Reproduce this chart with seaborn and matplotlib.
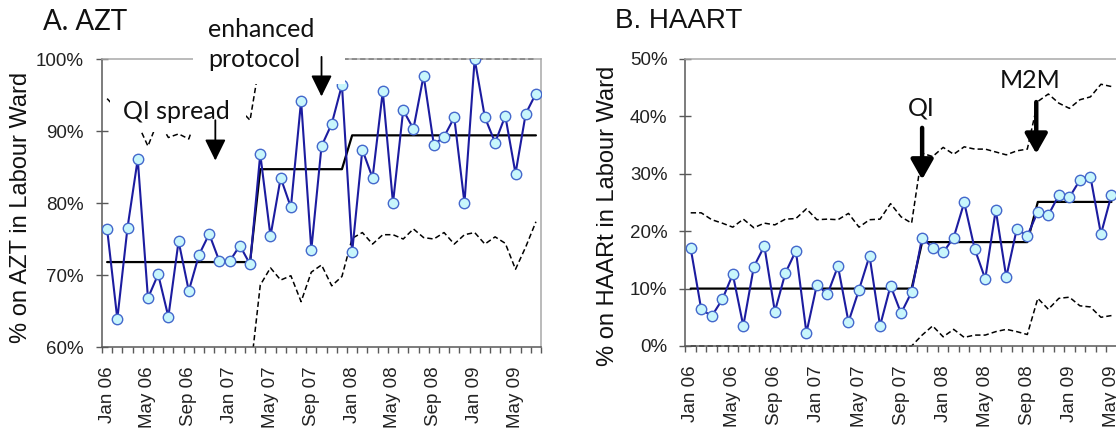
import numpy as np
import pandas as pd
import seaborn as sns
import matplotlib
matplotlib.use('Agg')
import matplotlib.pyplot as plt
from matplotlib.patches import Rectangle

# month categories, Jan 06 .. Jul 09
months = pd.date_range('2006-01-01', periods=43, freq='MS').strftime('%b %y').tolist()

# A. AZT - monthly % on AZT (p-chart)
azt_pct = [76.4, 63.9, 76.6, 86.1, 66.8, 70.1, 64.2, 74.7, 67.8, 72.8, 75.7, 71.9, 71.9, 74.1, 71.5,
           86.8, 75.4, 83.5, 79.4, 94.2, 73.5, 87.9, 91.0, 96.4,
           73.2, 87.4, 83.5, 95.5, 80.0, 92.9, 90.3, 97.7, 88.1, 89.2, 91.9, 80.0, 100.0, 91.9, 88.4,
           92.1, 84.1, 92.4, 95.2]
azt_centre = [71.8] * 15 + [84.7] * 9 + [89.4] * 19
azt_ucl = [94.5, 93.0, 92.5, 91.0, 87.9, 91.5, 89.1, 89.6, 88.9, 93.0, 93.5, 94.0, 93.5, 93.0, 91.5] + [100.0] * 28
azt_lcl = [49.1, 50.6, 51.1, 52.6, 55.7, 52.1, 54.5, 54.0, 54.7, 50.6, 50.1, 49.6, 50.1, 50.6, 56.0,
           68.6, 71.0, 69.3, 69.9, 66.3, 70.4, 71.4, 68.5, 69.8,
           75.1, 75.9, 74.3, 75.6, 75.6, 75.0, 76.4, 75.2, 75.0, 75.9, 74.3, 75.6, 75.9, 74.3, 75.3,
           74.4, 70.8, 73.9, 77.4]
azt_yticks = [60, 70, 80, 90, 100]

# B. HAART - only the months visible in the picture
haart_pct = [17.0, 6.4, 5.2, 8.1, 12.5, 3.5, 13.8, 17.4, 6.0, 12.7, 16.6, 2.3, 10.7, 9.0, 13.9, 4.2,
             9.8, 15.7, 3.5, 10.5, 5.7, 9.4,
             18.9, 17.1, 16.3, 18.9, 25.0, 16.9, 11.7, 23.7, 12.0, 20.4, 19.2,
             23.4, 22.8, 26.3, 25.9, 28.9, 29.5, 19.5, 26.3]
haart_centre = [10.0] * 22 + [18.1] * 11 + [25.1] * 8
haart_ucl = [23.2, 23.2, 22.0, 21.4, 20.7, 22.1, 20.6, 21.4, 21.1, 22.1, 22.2, 23.9, 22.0, 22.1, 22.0,
             23.1, 20.7, 22.0, 22.1, 24.8, 22.5, 21.4,
             33.6, 33.0, 34.6, 33.4, 34.7, 34.3, 34.3, 33.8, 33.3, 34.0, 34.3,
             42.6, 43.9, 42.3, 41.4, 42.9, 43.4, 45.6, 45.2]
haart_lcl = [0.0] * 22 + [1.9, 3.5, 1.6, 2.9, 1.5, 1.9, 1.9, 2.5, 2.9, 2.5, 2.0,
                          8.3, 6.4, 8.3, 8.5, 7.0, 6.8, 5.0, 5.3]
haart_yticks = [0, 10, 20, 30, 40, 50]

sns.set_style('white')
plt.rcParams['font.family'] = ['Liberation Sans', 'DejaVu Sans']

fig = plt.figure(figsize=(11.16, 4.29), dpi=100)
axA = fig.add_axes([0.0914, 0.1911, 0.3934, 0.6713])
# panel B runs past the right edge of the picture, as in the original
axB = fig.add_axes([0.6142, 0.1935, 0.4053, 0.6690])

line_col = '#1c1ca0'
face_col = '#c8f6fc'
edge_col = '#4468cc'


def draw_chart(ax, pct, centre, ucl, lcl, yticks, ylabel, lab_xy):
    x_all = np.arange(len(pct))
    sns.lineplot(x=np.arange(len(ucl)), y=ucl, ax=ax, color='black', lw=1.1,
                 linestyle=(0, (3.5, 2)), zorder=2, clip_on=False)
    sns.lineplot(x=np.arange(len(lcl)), y=lcl, ax=ax, color='black', lw=1.1,
                 linestyle=(0, (3.5, 2)), zorder=2)
    sns.lineplot(x=np.arange(len(centre)), y=centre, ax=ax, color='black', lw=1.6, zorder=2.5)
    sns.lineplot(x=x_all, y=pct, ax=ax, color=line_col, lw=1.5, marker='o', markersize=7.5,
                 markerfacecolor=face_col, markeredgecolor=edge_col, markeredgewidth=1.0, zorder=3)

    ax.set_xlim(-0.5, 42.5)
    ax.set_ylim(yticks[0], yticks[-1])
    ax.set_yticks(yticks)
    ax.set_yticklabels([f'{v}%' for v in yticks])
    ax.set_xticks(range(0, 43, 4))
    ax.set_xticklabels(months[::4], rotation=90)
    ax.set_xticks(np.arange(-0.5, 43, 1), minor=True)
    ax.tick_params(axis='y', direction='inout', length=8, width=1, color='#595959',
                   labelcolor='#222222', pad=9, labelsize=13.5, left=True)
    ax.tick_params(axis='x', which='major', length=0, pad=14, labelsize=13.5, labelcolor='#222222')
    ax.tick_params(axis='x', which='minor', direction='out', length=4, width=1,
                   color='#595959', bottom=True)
    for s in ['left', 'bottom']:
        ax.spines[s].set_color('#595959')
        ax.spines[s].set_linewidth(1.1)
    for s in ['top', 'right']:
        ax.spines[s].set_color('#a8a8a8')
        ax.spines[s].set_linewidth(1.1)
    ax.set_xlabel('')
    ax.set_ylabel(ylabel, fontsize=17, color='#111111')
    ax.yaxis.set_label_coords(*lab_xy)


draw_chart(axA, azt_pct, azt_centre, azt_ucl, azt_lcl, azt_yticks,
           '% on AZT in Labour Ward', (-0.159, 0.486))
draw_chart(axB, haart_pct, haart_centre, haart_ucl, haart_lcl, haart_yticks,
           '% on HAARt in Labour Ward', (-0.148, 0.453))
# B's lower limit sits on the axis line, keep it fully visible
axB.lines[1].set_clip_on(False)

# white text boxes of the annotations (cover the limit lines)
axA.add_patch(Rectangle((0.207, 0.913), 0.346, 0.40, transform=axA.transAxes,
                        facecolor='white', edgecolor='none', zorder=5, clip_on=False))
axA.add_patch(Rectangle((0.018, 0.747), 0.310, 0.128, transform=axA.transAxes,
                        facecolor='white', edgecolor='none', zorder=5, clip_on=False))

ann_font = dict(family=['Lato', 'DejaVu Sans'], fontsize=18, color='#111111', zorder=7,
                va='baseline', ha='left', clip_on=False)
axA.text(9.9, 103.1, 'enhanced', **ann_font)
axA.text(9.9, 98.9, 'protocol', **ann_font)
axA.text(1.56, 91.7, 'QI spread', **ann_font)
axB.text(20.6, 40.2, 'QI', **ann_font)
axB.text(29.4, 44.9, 'M2M', **ann_font)

thin = dict(arrowstyle='-|>,head_length=0.65,head_width=0.32', mutation_scale=20,
            color='black', lw=1.3, shrinkA=0, shrinkB=0)
thick = dict(arrowstyle='-|>,head_length=0.6,head_width=0.34', mutation_scale=20,
             color='black', lw=3.2, shrinkA=0, shrinkB=0)
axA.annotate('', xy=(21, 94.8), xytext=(21, 100.3), arrowprops=thin,
             annotation_clip=False, zorder=8)
axA.annotate('', xy=(10.6, 85.9), xytext=(10.6, 91.5), arrowprops=thin,
             annotation_clip=False, zorder=8)
axB.annotate('', xy=(22.0, 29.0), xytext=(22.0, 38.0), arrowprops=thick,
             annotation_clip=False, zorder=8)
axB.annotate('', xy=(32.85, 33.5), xytext=(32.85, 42.5), arrowprops=thick,
             annotation_clip=False, zorder=8)

fig.text(43 / 1116, 1 - 30 / 429, 'A. AZT', family=['Lato', 'DejaVu Sans'], fontsize=20,
         va='baseline', ha='left', color='#111111')
fig.text(615 / 1116, 1 - 28 / 429, 'B. HAART', fontsize=20, va='baseline', ha='left',
         color='#111111')

fig.savefig('out.png', dpi=100)
